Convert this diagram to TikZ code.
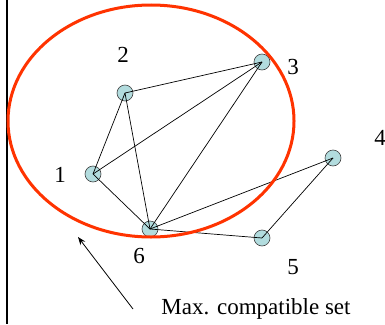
\documentclass[tikz,border=0pt]{standalone}
\usepackage{fontspec}
\setmainfont{Liberation Serif}
\usetikzlibrary{arrows.meta}
\definecolor{vertexfill}{RGB}{178,220,222}
\definecolor{setred}{RGB}{255,51,0}

\begin{document}
\begin{tikzpicture}[x=1pt, y=-1pt,
    vertex/.style={draw=black!75, circle, fill=vertexfill, minimum size=16pt, inner sep=0pt, line width=0.6pt},
    lbl/.style={font=\fontsize{23}{26}\selectfont},
    edge/.style={line width=0.7pt}]
    \useasboundingbox (0,0) rectangle (385,324);
    \draw[line width=2pt] (7,0) -- (7,324);

    \node[vertex] (v1) at (93,174) {};
    \node[vertex] (v2) at (125,93) {};
    \node[vertex] (v3) at (262,62) {};
    \node[vertex] (v4) at (333,158) {};
    \node[vertex] (v5) at (262,238) {};
    \node[vertex] (v6) at (150,229) {};

    \node[lbl] (l1) at (60,175) {1};
    \node[lbl] (l2) at (123,55) {2};
    \node[lbl] (l3) at (293,67) {3};
    \node[lbl] (l4) at (380,138) {4};
    \node[lbl] (l5) at (293,267) {5};
    \node[lbl] (l6) at (139,256) {6};

    \draw[edge] (v1.center) -- (v2.center);
    \draw[edge] (v2.center) -- (v3.center);
    \draw[edge] (v1.center) -- (v3.center);
    \draw[edge] (v1.center) -- (v6.center);
    \draw[edge] (v2.center) -- (v6.center);
    \draw[edge] (v3.center) -- (v6.center);
    \draw[edge] (v6.center) -- (v4.center);
    \draw[edge] (v4.center) -- (v5.center);
    \draw[edge] (v6.center) -- (v5.center);

    % maximal compatible set
    \draw[setred, line width=3pt] (151,121) ellipse [x radius=143, y radius=116];

    \node[lbl] (caption) at (256,309) {Max. compatible set};
    \coordinate (tail) at (133,309);
    \coordinate (head) at (78,237);
    \draw[line width=0.8pt, -{Stealth[length=8pt, width=6pt]}] (tail) -- (head);
\end{tikzpicture}
\end{document}
